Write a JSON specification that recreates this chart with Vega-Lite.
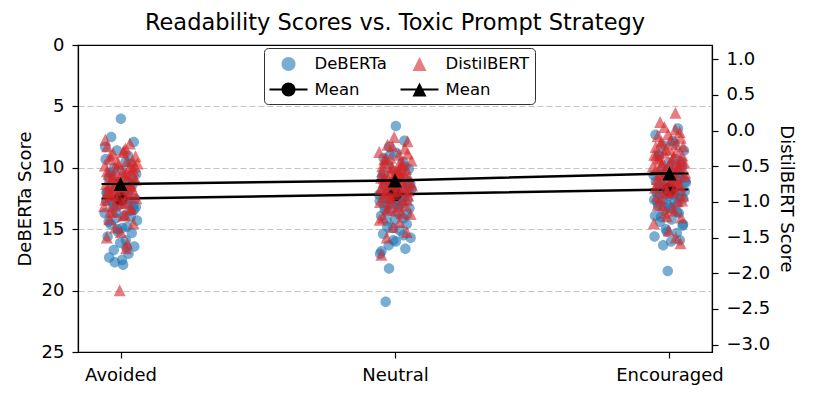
{
  "$schema": "https://vega.github.io/schema/vega-lite/v6.json",
  "width": 634,
  "height": 307,
  "autosize": {"type": "none"},
  "padding": {"left": 78, "top": 45, "right": 102, "bottom": 46},
  "background": "white",
  "title": {"text": "Readability Scores vs. Toxic Prompt Strategy", "fontSize": 22.5, "font": "DejaVu Sans", "fontWeight": "normal", "color": "black", "anchor": "middle", "offset": 15.5, "baseline": "alphabetic", "dy": 31.5},
  "datasets": {
    "deb": [
      {"s":"Avoided","m":"DeBERTa","v":6.0,"j":0.02},{"s":"Avoided","m":"DeBERTa","v":7.5,"j":-0.55},{"s":"Avoided","m":"DeBERTa","v":7.9,"j":0.78},{"s":"Avoided","m":"DeBERTa","v":8.6,"j":-0.21},{"s":"Avoided","m":"DeBERTa","v":9.0,"j":0.43},{"s":"Avoided","m":"DeBERTa","v":9.3,"j":-0.88},{"s":"Avoided","m":"DeBERTa","v":9.7,"j":0.61},{"s":"Avoided","m":"DeBERTa","v":10.0,"j":-0.37},{"s":"Avoided","m":"DeBERTa","v":10.2,"j":0.05},{"s":"Avoided","m":"DeBERTa","v":10.5,"j":0.92},{"s":"Avoided","m":"DeBERTa","v":10.8,"j":-0.70},{"s":"Avoided","m":"DeBERTa","v":11.0,"j":0.28},{"s":"Avoided","m":"DeBERTa","v":11.2,"j":-0.12},{"s":"Avoided","m":"DeBERTa","v":11.4,"j":0.69},{"s":"Avoided","m":"DeBERTa","v":11.6,"j":-0.49},{"s":"Avoided","m":"DeBERTa","v":11.8,"j":0.51},{"s":"Avoided","m":"DeBERTa","v":12.0,"j":-0.82},{"s":"Avoided","m":"DeBERTa","v":12.2,"j":0.18},{"s":"Avoided","m":"DeBERTa","v":12.3,"j":-0.30},{"s":"Avoided","m":"DeBERTa","v":12.5,"j":0.85},{"s":"Avoided","m":"DeBERTa","v":12.6,"j":-0.63},{"s":"Avoided","m":"DeBERTa","v":12.8,"j":0.36},{"s":"Avoided","m":"DeBERTa","v":13.0,"j":-0.05},{"s":"Avoided","m":"DeBERTa","v":13.1,"j":0.74},{"s":"Avoided","m":"DeBERTa","v":13.3,"j":-0.44},{"s":"Avoided","m":"DeBERTa","v":13.5,"j":0.58},{"s":"Avoided","m":"DeBERTa","v":13.7,"j":-0.93},{"s":"Avoided","m":"DeBERTa","v":13.9,"j":0.22},{"s":"Avoided","m":"DeBERTa","v":14.1,"j":-0.26},{"s":"Avoided","m":"DeBERTa","v":14.3,"j":0.97},{"s":"Avoided","m":"DeBERTa","v":14.6,"j":-0.58},{"s":"Avoided","m":"DeBERTa","v":14.8,"j":0.40},{"s":"Avoided","m":"DeBERTa","v":15.0,"j":-0.16},{"s":"Avoided","m":"DeBERTa","v":15.3,"j":0.66},{"s":"Avoided","m":"DeBERTa","v":15.6,"j":-0.76},{"s":"Avoided","m":"DeBERTa","v":15.9,"j":0.31},{"s":"Avoided","m":"DeBERTa","v":16.1,"j":-0.02},{"s":"Avoided","m":"DeBERTa","v":16.4,"j":0.81},{"s":"Avoided","m":"DeBERTa","v":16.7,"j":-0.40},{"s":"Avoided","m":"DeBERTa","v":17.0,"j":0.47},{"s":"Avoided","m":"DeBERTa","v":17.3,"j":-0.67},{"s":"Avoided","m":"DeBERTa","v":17.5,"j":0.09},{"s":"Avoided","m":"DeBERTa","v":17.7,"j":-0.34},{"s":"Avoided","m":"DeBERTa","v":17.9,"j":0.15},{"s":"Avoided","m":"DeBERTa","v":12.7,"j":-0.85},
      {"s":"Avoided","m":"DeBERTa","v":9.5,"j":0.3},{"s":"Avoided","m":"DeBERTa","v":10.4,"j":-0.6},{"s":"Avoided","m":"DeBERTa","v":10.9,"j":0.7},{"s":"Avoided","m":"DeBERTa","v":11.3,"j":-0.1},{"s":"Avoided","m":"DeBERTa","v":11.7,"j":0.5},{"s":"Avoided","m":"DeBERTa","v":12.1,"j":-0.8},{"s":"Avoided","m":"DeBERTa","v":12.4,"j":0.2},{"s":"Avoided","m":"DeBERTa","v":12.9,"j":-0.4},{"s":"Avoided","m":"DeBERTa","v":13.2,"j":0.9},{"s":"Avoided","m":"DeBERTa","v":13.6,"j":-0.25},{"s":"Avoided","m":"DeBERTa","v":14.0,"j":0.6},{"s":"Avoided","m":"DeBERTa","v":14.4,"j":-0.7},{"s":"Avoided","m":"DeBERTa","v":11.5,"j":0.0},{"s":"Avoided","m":"DeBERTa","v":12.6,"j":0.45},{"s":"Avoided","m":"DeBERTa","v":10.6,"j":-0.5},{"s":"Avoided","m":"DeBERTa","v":13.4,"j":0.8},{"s":"Avoided","m":"DeBERTa","v":15.2,"j":-0.15},{"s":"Avoided","m":"DeBERTa","v":16.5,"j":0.35},{"s":"Avoided","m":"DeBERTa","v":8.3,"j":-0.9},{"s":"Avoided","m":"DeBERTa","v":14.9,"j":0.1},
      {"s":"Neutral","m":"DeBERTa","v":6.6,"j":0.05},{"s":"Neutral","m":"DeBERTa","v":7.8,"j":0.55},{"s":"Neutral","m":"DeBERTa","v":8.3,"j":-0.34},{"s":"Neutral","m":"DeBERTa","v":8.8,"j":0.09},{"s":"Neutral","m":"DeBERTa","v":9.2,"j":-0.67},{"s":"Neutral","m":"DeBERTa","v":9.5,"j":0.47},{"s":"Neutral","m":"DeBERTa","v":9.8,"j":-0.40},{"s":"Neutral","m":"DeBERTa","v":10.1,"j":0.81},{"s":"Neutral","m":"DeBERTa","v":10.3,"j":-0.02},{"s":"Neutral","m":"DeBERTa","v":10.6,"j":0.31},{"s":"Neutral","m":"DeBERTa","v":10.8,"j":-0.76},{"s":"Neutral","m":"DeBERTa","v":11.0,"j":0.66},{"s":"Neutral","m":"DeBERTa","v":11.2,"j":-0.16},{"s":"Neutral","m":"DeBERTa","v":11.4,"j":0.40},{"s":"Neutral","m":"DeBERTa","v":11.6,"j":-0.58},{"s":"Neutral","m":"DeBERTa","v":11.7,"j":0.97},{"s":"Neutral","m":"DeBERTa","v":11.9,"j":-0.26},{"s":"Neutral","m":"DeBERTa","v":12.0,"j":0.22},{"s":"Neutral","m":"DeBERTa","v":12.2,"j":-0.93},{"s":"Neutral","m":"DeBERTa","v":12.3,"j":0.58},{"s":"Neutral","m":"DeBERTa","v":12.5,"j":-0.44},{"s":"Neutral","m":"DeBERTa","v":12.6,"j":0.74},{"s":"Neutral","m":"DeBERTa","v":12.8,"j":-0.05},{"s":"Neutral","m":"DeBERTa","v":12.9,"j":0.36},{"s":"Neutral","m":"DeBERTa","v":13.1,"j":-0.63},{"s":"Neutral","m":"DeBERTa","v":13.3,"j":0.85},{"s":"Neutral","m":"DeBERTa","v":13.5,"j":-0.30},{"s":"Neutral","m":"DeBERTa","v":13.7,"j":0.18},{"s":"Neutral","m":"DeBERTa","v":13.9,"j":-0.82},{"s":"Neutral","m":"DeBERTa","v":14.1,"j":0.51},{"s":"Neutral","m":"DeBERTa","v":14.3,"j":-0.49},{"s":"Neutral","m":"DeBERTa","v":14.6,"j":0.69},{"s":"Neutral","m":"DeBERTa","v":14.9,"j":-0.12},{"s":"Neutral","m":"DeBERTa","v":15.1,"j":0.28},{"s":"Neutral","m":"DeBERTa","v":15.4,"j":-0.70},{"s":"Neutral","m":"DeBERTa","v":15.7,"j":0.92},{"s":"Neutral","m":"DeBERTa","v":16.0,"j":0.05},{"s":"Neutral","m":"DeBERTa","v":16.3,"j":-0.37},{"s":"Neutral","m":"DeBERTa","v":16.6,"j":0.61},{"s":"Neutral","m":"DeBERTa","v":17.0,"j":-0.88},{"s":"Neutral","m":"DeBERTa","v":18.2,"j":-0.35},{"s":"Neutral","m":"DeBERTa","v":20.9,"j":-0.55},{"s":"Neutral","m":"DeBERTa","v":11.5,"j":0.78},{"s":"Neutral","m":"DeBERTa","v":12.4,"j":-0.55},{"s":"Neutral","m":"DeBERTa","v":13.0,"j":0.12},
      {"s":"Neutral","m":"DeBERTa","v":9.0,"j":-0.3},{"s":"Neutral","m":"DeBERTa","v":9.9,"j":0.6},{"s":"Neutral","m":"DeBERTa","v":10.5,"j":-0.7},{"s":"Neutral","m":"DeBERTa","v":11.1,"j":0.1},{"s":"Neutral","m":"DeBERTa","v":11.5,"j":-0.5},{"s":"Neutral","m":"DeBERTa","v":11.8,"j":0.8},{"s":"Neutral","m":"DeBERTa","v":12.1,"j":-0.2},{"s":"Neutral","m":"DeBERTa","v":12.4,"j":0.4},{"s":"Neutral","m":"DeBERTa","v":12.7,"j":-0.9},{"s":"Neutral","m":"DeBERTa","v":13.0,"j":0.25},{"s":"Neutral","m":"DeBERTa","v":13.4,"j":-0.6},{"s":"Neutral","m":"DeBERTa","v":13.8,"j":0.7},{"s":"Neutral","m":"DeBERTa","v":14.2,"j":0.0},{"s":"Neutral","m":"DeBERTa","v":14.8,"j":-0.45},{"s":"Neutral","m":"DeBERTa","v":15.5,"j":0.5},{"s":"Neutral","m":"DeBERTa","v":16.8,"j":-0.8},{"s":"Neutral","m":"DeBERTa","v":10.9,"j":0.15},{"s":"Neutral","m":"DeBERTa","v":12.9,"j":-0.35},{"s":"Neutral","m":"DeBERTa","v":11.3,"j":0.9},{"s":"Neutral","m":"DeBERTa","v":15.9,"j":-0.1},
      {"s":"Encouraged","m":"DeBERTa","v":6.8,"j":0.5},{"s":"Encouraged","m":"DeBERTa","v":7.3,"j":-0.82},{"s":"Encouraged","m":"DeBERTa","v":7.8,"j":0.18},{"s":"Encouraged","m":"DeBERTa","v":8.2,"j":-0.30},{"s":"Encouraged","m":"DeBERTa","v":8.6,"j":0.85},{"s":"Encouraged","m":"DeBERTa","v":9.0,"j":-0.63},{"s":"Encouraged","m":"DeBERTa","v":9.3,"j":0.36},{"s":"Encouraged","m":"DeBERTa","v":9.6,"j":-0.05},{"s":"Encouraged","m":"DeBERTa","v":9.9,"j":0.74},{"s":"Encouraged","m":"DeBERTa","v":10.1,"j":-0.44},{"s":"Encouraged","m":"DeBERTa","v":10.4,"j":0.58},{"s":"Encouraged","m":"DeBERTa","v":10.6,"j":-0.93},{"s":"Encouraged","m":"DeBERTa","v":10.8,"j":0.22},{"s":"Encouraged","m":"DeBERTa","v":11.0,"j":-0.26},{"s":"Encouraged","m":"DeBERTa","v":11.2,"j":0.97},{"s":"Encouraged","m":"DeBERTa","v":11.4,"j":-0.58},{"s":"Encouraged","m":"DeBERTa","v":11.5,"j":0.40},{"s":"Encouraged","m":"DeBERTa","v":11.7,"j":-0.16},{"s":"Encouraged","m":"DeBERTa","v":11.9,"j":0.66},{"s":"Encouraged","m":"DeBERTa","v":12.0,"j":-0.76},{"s":"Encouraged","m":"DeBERTa","v":12.2,"j":0.31},{"s":"Encouraged","m":"DeBERTa","v":12.3,"j":-0.02},{"s":"Encouraged","m":"DeBERTa","v":12.5,"j":0.81},{"s":"Encouraged","m":"DeBERTa","v":12.7,"j":-0.40},{"s":"Encouraged","m":"DeBERTa","v":12.9,"j":0.47},{"s":"Encouraged","m":"DeBERTa","v":13.1,"j":-0.67},{"s":"Encouraged","m":"DeBERTa","v":13.3,"j":0.09},{"s":"Encouraged","m":"DeBERTa","v":13.5,"j":-0.34},{"s":"Encouraged","m":"DeBERTa","v":13.7,"j":0.55},{"s":"Encouraged","m":"DeBERTa","v":13.9,"j":-0.85},{"s":"Encouraged","m":"DeBERTa","v":14.2,"j":0.12},{"s":"Encouraged","m":"DeBERTa","v":14.4,"j":-0.55},{"s":"Encouraged","m":"DeBERTa","v":14.7,"j":0.78},{"s":"Encouraged","m":"DeBERTa","v":15.0,"j":-0.21},{"s":"Encouraged","m":"DeBERTa","v":15.3,"j":0.43},{"s":"Encouraged","m":"DeBERTa","v":15.6,"j":-0.88},{"s":"Encouraged","m":"DeBERTa","v":15.9,"j":0.61},{"s":"Encouraged","m":"DeBERTa","v":16.3,"j":-0.37},{"s":"Encouraged","m":"DeBERTa","v":18.4,"j":-0.1},{"s":"Encouraged","m":"DeBERTa","v":11.1,"j":0.92},{"s":"Encouraged","m":"DeBERTa","v":12.1,"j":-0.70},{"s":"Encouraged","m":"DeBERTa","v":12.6,"j":0.28},{"s":"Encouraged","m":"DeBERTa","v":13.0,"j":-0.12},{"s":"Encouraged","m":"DeBERTa","v":10.9,"j":0.69},{"s":"Encouraged","m":"DeBERTa","v":11.8,"j":-0.49},
      {"s":"Encouraged","m":"DeBERTa","v":8.0,"j":0.3},{"s":"Encouraged","m":"DeBERTa","v":8.9,"j":-0.6},{"s":"Encouraged","m":"DeBERTa","v":9.5,"j":0.7},{"s":"Encouraged","m":"DeBERTa","v":10.2,"j":-0.1},{"s":"Encouraged","m":"DeBERTa","v":10.7,"j":0.5},{"s":"Encouraged","m":"DeBERTa","v":11.1,"j":-0.8},{"s":"Encouraged","m":"DeBERTa","v":11.3,"j":0.2},{"s":"Encouraged","m":"DeBERTa","v":11.6,"j":-0.4},{"s":"Encouraged","m":"DeBERTa","v":11.9,"j":0.9},{"s":"Encouraged","m":"DeBERTa","v":12.2,"j":-0.25},{"s":"Encouraged","m":"DeBERTa","v":12.4,"j":0.6},{"s":"Encouraged","m":"DeBERTa","v":12.8,"j":-0.7},{"s":"Encouraged","m":"DeBERTa","v":13.2,"j":0.0},{"s":"Encouraged","m":"DeBERTa","v":13.6,"j":0.45},{"s":"Encouraged","m":"DeBERTa","v":14.0,"j":-0.5},{"s":"Encouraged","m":"DeBERTa","v":14.6,"j":0.8},{"s":"Encouraged","m":"DeBERTa","v":15.2,"j":-0.15},{"s":"Encouraged","m":"DeBERTa","v":10.0,"j":0.35},{"s":"Encouraged","m":"DeBERTa","v":12.6,"j":-0.9},{"s":"Encouraged","m":"DeBERTa","v":16.0,"j":0.1}
    ],
    "dis": [
      {"s":"Avoided","m":"DistilBERT","v":-0.13,"j":-0.9},{"s":"Avoided","m":"DistilBERT","v":-0.18,"j":0.55},{"s":"Avoided","m":"DistilBERT","v":-0.22,"j":-0.78},{"s":"Avoided","m":"DistilBERT","v":-0.28,"j":0.21},{"s":"Avoided","m":"DistilBERT","v":-0.32,"j":-0.43},{"s":"Avoided","m":"DistilBERT","v":-0.36,"j":0.88},{"s":"Avoided","m":"DistilBERT","v":-0.40,"j":-0.61},{"s":"Avoided","m":"DistilBERT","v":-0.43,"j":0.37},{"s":"Avoided","m":"DistilBERT","v":-0.46,"j":1.0},{"s":"Avoided","m":"DistilBERT","v":-0.49,"j":-0.92},{"s":"Avoided","m":"DistilBERT","v":-0.52,"j":0.70},{"s":"Avoided","m":"DistilBERT","v":-0.55,"j":-0.28},{"s":"Avoided","m":"DistilBERT","v":-0.58,"j":0.12},{"s":"Avoided","m":"DistilBERT","v":-0.61,"j":-0.69},{"s":"Avoided","m":"DistilBERT","v":-0.63,"j":0.49},{"s":"Avoided","m":"DistilBERT","v":-0.66,"j":-0.51},{"s":"Avoided","m":"DistilBERT","v":-0.68,"j":0.82},{"s":"Avoided","m":"DistilBERT","v":-0.71,"j":-0.18},{"s":"Avoided","m":"DistilBERT","v":-0.73,"j":0.30},{"s":"Avoided","m":"DistilBERT","v":-0.75,"j":-0.85},{"s":"Avoided","m":"DistilBERT","v":-0.78,"j":0.63},{"s":"Avoided","m":"DistilBERT","v":-0.80,"j":-0.36},{"s":"Avoided","m":"DistilBERT","v":-0.83,"j":0.05},{"s":"Avoided","m":"DistilBERT","v":-0.86,"j":-0.74},{"s":"Avoided","m":"DistilBERT","v":-0.89,"j":0.44},{"s":"Avoided","m":"DistilBERT","v":-0.92,"j":-0.58},{"s":"Avoided","m":"DistilBERT","v":-0.95,"j":0.93},{"s":"Avoided","m":"DistilBERT","v":-0.98,"j":-0.22},{"s":"Avoided","m":"DistilBERT","v":-1.02,"j":0.26},{"s":"Avoided","m":"DistilBERT","v":-1.06,"j":-0.97},{"s":"Avoided","m":"DistilBERT","v":-1.10,"j":0.58},{"s":"Avoided","m":"DistilBERT","v":-1.14,"j":-0.40},{"s":"Avoided","m":"DistilBERT","v":-1.19,"j":0.16},{"s":"Avoided","m":"DistilBERT","v":-1.24,"j":-0.66},{"s":"Avoided","m":"DistilBERT","v":-1.30,"j":0.76},{"s":"Avoided","m":"DistilBERT","v":-1.36,"j":-0.31},{"s":"Avoided","m":"DistilBERT","v":-1.42,"j":0.02},{"s":"Avoided","m":"DistilBERT","v":-1.50,"j":-0.81},{"s":"Avoided","m":"DistilBERT","v":-1.58,"j":0.40},{"s":"Avoided","m":"DistilBERT","v":-1.65,"j":0.33},{"s":"Avoided","m":"DistilBERT","v":-2.24,"j":-0.05},{"s":"Avoided","m":"DistilBERT","v":-0.70,"j":-0.09},{"s":"Avoided","m":"DistilBERT","v":-0.60,"j":0.34},{"s":"Avoided","m":"DistilBERT","v":-0.90,"j":-0.55},{"s":"Avoided","m":"DistilBERT","v":-0.50,"j":0.85},
      {"s":"Avoided","m":"DistilBERT","v":-0.25,"j":0.3},{"s":"Avoided","m":"DistilBERT","v":-0.35,"j":-0.6},{"s":"Avoided","m":"DistilBERT","v":-0.42,"j":0.7},{"s":"Avoided","m":"DistilBERT","v":-0.47,"j":-0.1},{"s":"Avoided","m":"DistilBERT","v":-0.53,"j":0.5},{"s":"Avoided","m":"DistilBERT","v":-0.57,"j":-0.8},{"s":"Avoided","m":"DistilBERT","v":-0.62,"j":0.2},{"s":"Avoided","m":"DistilBERT","v":-0.65,"j":-0.4},{"s":"Avoided","m":"DistilBERT","v":-0.69,"j":0.9},{"s":"Avoided","m":"DistilBERT","v":-0.72,"j":-0.25},{"s":"Avoided","m":"DistilBERT","v":-0.74,"j":0.6},{"s":"Avoided","m":"DistilBERT","v":-0.77,"j":-0.7},{"s":"Avoided","m":"DistilBERT","v":-0.79,"j":0.0},{"s":"Avoided","m":"DistilBERT","v":-0.82,"j":0.45},{"s":"Avoided","m":"DistilBERT","v":-0.84,"j":-0.5},{"s":"Avoided","m":"DistilBERT","v":-0.87,"j":0.8},{"s":"Avoided","m":"DistilBERT","v":-0.91,"j":-0.15},{"s":"Avoided","m":"DistilBERT","v":-0.94,"j":0.35},{"s":"Avoided","m":"DistilBERT","v":-0.97,"j":-0.9},{"s":"Avoided","m":"DistilBERT","v":-1.01,"j":0.1},{"s":"Avoided","m":"DistilBERT","v":-1.05,"j":-0.35},{"s":"Avoided","m":"DistilBERT","v":-1.09,"j":0.65},{"s":"Avoided","m":"DistilBERT","v":-1.13,"j":-0.6},{"s":"Avoided","m":"DistilBERT","v":-1.18,"j":0.25},{"s":"Avoided","m":"DistilBERT","v":-0.45,"j":-0.2},{"s":"Avoided","m":"DistilBERT","v":-0.56,"j":0.75},{"s":"Avoided","m":"DistilBERT","v":-0.67,"j":-0.45},{"s":"Avoided","m":"DistilBERT","v":-0.76,"j":0.55},{"s":"Avoided","m":"DistilBERT","v":-0.85,"j":-0.75},{"s":"Avoided","m":"DistilBERT","v":-0.30,"j":0.15},
      {"s":"Neutral","m":"DistilBERT","v":-0.09,"j":-0.05},{"s":"Neutral","m":"DistilBERT","v":-0.15,"j":0.74},{"s":"Neutral","m":"DistilBERT","v":-0.20,"j":-0.44},{"s":"Neutral","m":"DistilBERT","v":-0.25,"j":0.58},{"s":"Neutral","m":"DistilBERT","v":-0.30,"j":-0.93},{"s":"Neutral","m":"DistilBERT","v":-0.34,"j":0.22},{"s":"Neutral","m":"DistilBERT","v":-0.38,"j":-0.26},{"s":"Neutral","m":"DistilBERT","v":-0.42,"j":0.97},{"s":"Neutral","m":"DistilBERT","v":-0.45,"j":-0.58},{"s":"Neutral","m":"DistilBERT","v":-0.48,"j":0.40},{"s":"Neutral","m":"DistilBERT","v":-0.51,"j":-0.16},{"s":"Neutral","m":"DistilBERT","v":-0.54,"j":0.66},{"s":"Neutral","m":"DistilBERT","v":-0.57,"j":-0.76},{"s":"Neutral","m":"DistilBERT","v":-0.60,"j":0.31},{"s":"Neutral","m":"DistilBERT","v":-0.62,"j":-0.02},{"s":"Neutral","m":"DistilBERT","v":-0.65,"j":0.81},{"s":"Neutral","m":"DistilBERT","v":-0.67,"j":-0.40},{"s":"Neutral","m":"DistilBERT","v":-0.70,"j":0.47},{"s":"Neutral","m":"DistilBERT","v":-0.72,"j":-0.67},{"s":"Neutral","m":"DistilBERT","v":-0.74,"j":0.09},{"s":"Neutral","m":"DistilBERT","v":-0.76,"j":-0.34},{"s":"Neutral","m":"DistilBERT","v":-0.79,"j":0.55},{"s":"Neutral","m":"DistilBERT","v":-0.82,"j":-0.85},{"s":"Neutral","m":"DistilBERT","v":-0.85,"j":0.12},{"s":"Neutral","m":"DistilBERT","v":-0.88,"j":-0.55},{"s":"Neutral","m":"DistilBERT","v":-0.91,"j":0.78},{"s":"Neutral","m":"DistilBERT","v":-0.94,"j":-0.21},{"s":"Neutral","m":"DistilBERT","v":-0.97,"j":0.43},{"s":"Neutral","m":"DistilBERT","v":-1.00,"j":-0.88},{"s":"Neutral","m":"DistilBERT","v":-1.04,"j":0.61},{"s":"Neutral","m":"DistilBERT","v":-1.08,"j":-0.37},{"s":"Neutral","m":"DistilBERT","v":-1.12,"j":0.05},{"s":"Neutral","m":"DistilBERT","v":-1.17,"j":0.92},{"s":"Neutral","m":"DistilBERT","v":-1.22,"j":-0.70},{"s":"Neutral","m":"DistilBERT","v":-1.28,"j":0.28},{"s":"Neutral","m":"DistilBERT","v":-1.35,"j":-0.12},{"s":"Neutral","m":"DistilBERT","v":-1.42,"j":0.69},{"s":"Neutral","m":"DistilBERT","v":-1.50,"j":-0.49},{"s":"Neutral","m":"DistilBERT","v":-1.74,"j":-0.8},{"s":"Neutral","m":"DistilBERT","v":-0.66,"j":-0.82},{"s":"Neutral","m":"DistilBERT","v":-0.58,"j":0.18},{"s":"Neutral","m":"DistilBERT","v":-0.77,"j":1.0},{"s":"Neutral","m":"DistilBERT","v":-0.95,"j":-0.30},{"s":"Neutral","m":"DistilBERT","v":-0.40,"j":-0.63},{"s":"Neutral","m":"DistilBERT","v":-0.55,"j":0.36},
      {"s":"Neutral","m":"DistilBERT","v":-0.22,"j":-0.15},{"s":"Neutral","m":"DistilBERT","v":-0.32,"j":0.75},{"s":"Neutral","m":"DistilBERT","v":-0.40,"j":-0.55},{"s":"Neutral","m":"DistilBERT","v":-0.46,"j":0.45},{"s":"Neutral","m":"DistilBERT","v":-0.50,"j":-0.75},{"s":"Neutral","m":"DistilBERT","v":-0.55,"j":0.2},{"s":"Neutral","m":"DistilBERT","v":-0.59,"j":-0.25},{"s":"Neutral","m":"DistilBERT","v":-0.63,"j":0.6},{"s":"Neutral","m":"DistilBERT","v":-0.66,"j":-0.65},{"s":"Neutral","m":"DistilBERT","v":-0.69,"j":0.35},{"s":"Neutral","m":"DistilBERT","v":-0.71,"j":-0.1},{"s":"Neutral","m":"DistilBERT","v":-0.73,"j":0.9},{"s":"Neutral","m":"DistilBERT","v":-0.75,"j":-0.35},{"s":"Neutral","m":"DistilBERT","v":-0.78,"j":0.15},{"s":"Neutral","m":"DistilBERT","v":-0.80,"j":-0.8},{"s":"Neutral","m":"DistilBERT","v":-0.83,"j":0.5},{"s":"Neutral","m":"DistilBERT","v":-0.86,"j":-0.45},{"s":"Neutral","m":"DistilBERT","v":-0.89,"j":0.0},{"s":"Neutral","m":"DistilBERT","v":-0.93,"j":-0.7},{"s":"Neutral","m":"DistilBERT","v":-0.97,"j":0.7},{"s":"Neutral","m":"DistilBERT","v":-1.02,"j":-0.25},{"s":"Neutral","m":"DistilBERT","v":-1.06,"j":0.25},{"s":"Neutral","m":"DistilBERT","v":-1.11,"j":-0.5},{"s":"Neutral","m":"DistilBERT","v":-1.16,"j":0.4},{"s":"Neutral","m":"DistilBERT","v":-1.25,"j":-0.9},{"s":"Neutral","m":"DistilBERT","v":-0.61,"j":0.1},{"s":"Neutral","m":"DistilBERT","v":-0.68,"j":-0.6},{"s":"Neutral","m":"DistilBERT","v":-0.84,"j":0.8},{"s":"Neutral","m":"DistilBERT","v":-0.52,"j":-0.2},{"s":"Neutral","m":"DistilBERT","v":-0.44,"j":0.3},
      {"s":"Encouraged","m":"DistilBERT","v":0.25,"j":0.35},{"s":"Encouraged","m":"DistilBERT","v":0.12,"j":-0.55},{"s":"Encouraged","m":"DistilBERT","v":0.02,"j":0.34},{"s":"Encouraged","m":"DistilBERT","v":-0.05,"j":-0.09},{"s":"Encouraged","m":"DistilBERT","v":-0.10,"j":0.67},{"s":"Encouraged","m":"DistilBERT","v":-0.15,"j":-0.47},{"s":"Encouraged","m":"DistilBERT","v":-0.19,"j":0.40},{"s":"Encouraged","m":"DistilBERT","v":-0.23,"j":-0.81},{"s":"Encouraged","m":"DistilBERT","v":-0.27,"j":0.02},{"s":"Encouraged","m":"DistilBERT","v":-0.31,"j":-0.31},{"s":"Encouraged","m":"DistilBERT","v":-0.35,"j":0.76},{"s":"Encouraged","m":"DistilBERT","v":-0.38,"j":-0.66},{"s":"Encouraged","m":"DistilBERT","v":-0.41,"j":0.16},{"s":"Encouraged","m":"DistilBERT","v":-0.44,"j":-0.40},{"s":"Encouraged","m":"DistilBERT","v":-0.47,"j":0.58},{"s":"Encouraged","m":"DistilBERT","v":-0.50,"j":-0.97},{"s":"Encouraged","m":"DistilBERT","v":-0.53,"j":0.26},{"s":"Encouraged","m":"DistilBERT","v":-0.56,"j":-0.22},{"s":"Encouraged","m":"DistilBERT","v":-0.59,"j":0.93},{"s":"Encouraged","m":"DistilBERT","v":-0.62,"j":-0.58},{"s":"Encouraged","m":"DistilBERT","v":-0.65,"j":0.44},{"s":"Encouraged","m":"DistilBERT","v":-0.68,"j":-0.74},{"s":"Encouraged","m":"DistilBERT","v":-0.71,"j":0.05},{"s":"Encouraged","m":"DistilBERT","v":-0.74,"j":-0.36},{"s":"Encouraged","m":"DistilBERT","v":-0.77,"j":0.63},{"s":"Encouraged","m":"DistilBERT","v":-0.80,"j":-0.85},{"s":"Encouraged","m":"DistilBERT","v":-0.83,"j":0.30},{"s":"Encouraged","m":"DistilBERT","v":-0.87,"j":-0.18},{"s":"Encouraged","m":"DistilBERT","v":-0.91,"j":0.82},{"s":"Encouraged","m":"DistilBERT","v":-0.95,"j":-0.51},{"s":"Encouraged","m":"DistilBERT","v":-0.99,"j":0.49},{"s":"Encouraged","m":"DistilBERT","v":-1.04,"j":-0.69},{"s":"Encouraged","m":"DistilBERT","v":-1.09,"j":0.12},{"s":"Encouraged","m":"DistilBERT","v":-1.15,"j":-0.28},{"s":"Encouraged","m":"DistilBERT","v":-1.22,"j":0.70},{"s":"Encouraged","m":"DistilBERT","v":-1.30,"j":-0.92},{"s":"Encouraged","m":"DistilBERT","v":-1.40,"j":-0.05},{"s":"Encouraged","m":"DistilBERT","v":-1.50,"j":0.37},{"s":"Encouraged","m":"DistilBERT","v":-1.58,"j":0.65},{"s":"Encouraged","m":"DistilBERT","v":-0.45,"j":0.88},{"s":"Encouraged","m":"DistilBERT","v":-0.60,"j":-0.43},{"s":"Encouraged","m":"DistilBERT","v":-0.70,"j":0.21},{"s":"Encouraged","m":"DistilBERT","v":-0.35,"j":-0.78},{"s":"Encouraged","m":"DistilBERT","v":-0.52,"j":0.55},{"s":"Encouraged","m":"DistilBERT","v":-0.85,"j":-0.12},
      {"s":"Encouraged","m":"DistilBERT","v":0.05,"j":-0.3},{"s":"Encouraged","m":"DistilBERT","v":-0.02,"j":0.6},{"s":"Encouraged","m":"DistilBERT","v":-0.08,"j":-0.7},{"s":"Encouraged","m":"DistilBERT","v":-0.13,"j":0.1},{"s":"Encouraged","m":"DistilBERT","v":-0.18,"j":-0.5},{"s":"Encouraged","m":"DistilBERT","v":-0.22,"j":0.8},{"s":"Encouraged","m":"DistilBERT","v":-0.26,"j":-0.2},{"s":"Encouraged","m":"DistilBERT","v":-0.30,"j":0.4},{"s":"Encouraged","m":"DistilBERT","v":-0.34,"j":-0.9},{"s":"Encouraged","m":"DistilBERT","v":-0.37,"j":0.25},{"s":"Encouraged","m":"DistilBERT","v":-0.40,"j":-0.6},{"s":"Encouraged","m":"DistilBERT","v":-0.43,"j":0.7},{"s":"Encouraged","m":"DistilBERT","v":-0.46,"j":0.0},{"s":"Encouraged","m":"DistilBERT","v":-0.49,"j":-0.45},{"s":"Encouraged","m":"DistilBERT","v":-0.52,"j":0.5},{"s":"Encouraged","m":"DistilBERT","v":-0.55,"j":-0.8},{"s":"Encouraged","m":"DistilBERT","v":-0.58,"j":0.15},{"s":"Encouraged","m":"DistilBERT","v":-0.61,"j":-0.35},{"s":"Encouraged","m":"DistilBERT","v":-0.64,"j":0.9},{"s":"Encouraged","m":"DistilBERT","v":-0.67,"j":-0.1},{"s":"Encouraged","m":"DistilBERT","v":-0.70,"j":0.35},{"s":"Encouraged","m":"DistilBERT","v":-0.73,"j":-0.65},{"s":"Encouraged","m":"DistilBERT","v":-0.77,"j":0.6},{"s":"Encouraged","m":"DistilBERT","v":-0.81,"j":-0.25},{"s":"Encouraged","m":"DistilBERT","v":-0.86,"j":0.2},{"s":"Encouraged","m":"DistilBERT","v":-0.92,"j":-0.75},{"s":"Encouraged","m":"DistilBERT","v":-0.98,"j":0.75},{"s":"Encouraged","m":"DistilBERT","v":-1.05,"j":-0.4},{"s":"Encouraged","m":"DistilBERT","v":-1.12,"j":0.3},{"s":"Encouraged","m":"DistilBERT","v":-1.20,"j":-0.15}
    ],
    "debMean": [
      {"s":"Avoided","m":"DeBERTa Mean","v":12.49},{"s":"Neutral","m":"DeBERTa Mean","v":12.16},{"s":"Encouraged","m":"DeBERTa Mean","v":11.76}
    ],
    "disMean": [
      {"s":"Avoided","m":"DistilBERT Mean","v":-0.748},{"s":"Neutral","m":"DistilBERT Mean","v":-0.70},{"s":"Encouraged","m":"DistilBERT Mean","v":-0.60}
    ]
  },
  "encoding": {
    "x": {"field": "s", "type": "nominal", "scale": {"type": "point", "domain": ["Avoided", "Neutral", "Encouraged"], "padding": 0.155}, "axis": {"title": null, "labelAngle": 0, "labelFontSize": 18, "labelPadding": 8}}
  },
  "layer": [
    {
      "encoding": {
        "y": {"field": "v", "type": "quantitative", "scale": {"domain": [0, 25], "reverse": true, "nice": false, "zero": false}, "axis": {"orient": "left", "values": [0, 5, 10, 15, 20, 25], "grid": true, "gridColor": "#c4c4c4", "gridDash": [6, 3], "gridWidth": 1.1, "gridOpacity": {"condition": {"test": "datum.value === 0 || datum.value === 25", "value": 0}, "value": 1}, "title": "DeBERTa Score", "titlePadding": 7}}
      },
      "layer": [
        {
          "data": {"name": "deb"},
          "mark": {"type": "point", "filled": true, "size": 225, "opacity": 1},
          "encoding": {
            "xOffset": {"field": "j", "type": "quantitative", "scale": {"domain": [-1, 1], "range": [-17, 17]}},
            "color": {"field": "m", "type": "nominal", "scale": {"domain": ["DeBERTa", "DistilBERT", "DeBERTa Mean", "DistilBERT Mean"], "range": ["rgba(31,119,180,0.6)", "rgba(214,39,40,0.6)", "#000000", "#000000"]}, "legend": {"title": null, "orient": "none", "legendX": 186, "legendY": 3, "direction": "horizontal", "columns": 2, "symbolSize": 400, "symbolStrokeWidth": 0.5, "symbolOpacity": 1, "symbolOffset": 8.5, "labelFont": "DejaVu Sans", "labelFontSize": 16.5, "labelColor": "black", "labelOffset": 15.5, "padding": 5.5, "rowPadding": 6.5, "columnPadding": 13, "strokeColor": "#333333", "fillColor": "white", "cornerRadius": 4, "labelExpr": "indexof(datum.label, 'Mean') >= 0 ? 'Mean' : datum.label"}},
            "shape": {"field": "m", "type": "nominal", "scale": {"domain": ["DeBERTa", "DistilBERT", "DeBERTa Mean", "DistilBERT Mean"], "range": ["M0.7,0A0.7,0.7,0,1,1,-0.7,0A0.7,0.7,0,1,1,0.7,0Z", "M0,-0.7L0.7,0.7L-0.7,0.7Z", "M-1.9,-0.1H1.9V0.1H-1.9Z M0.7,0A0.7,0.7,0,1,1,-0.7,0A0.7,0.7,0,1,1,0.7,0Z", "M-1.9,-0.1H1.9V0.1H-1.9Z M0,-0.7L0.7,0.7L-0.7,0.7Z"]}}
          }
        },
        {
          "data": {"name": "debMean"},
          "mark": {"type": "line", "color": "black", "strokeWidth": 2.5},
          "encoding": {}
        },
        {
          "data": {"name": "debMean"},
          "mark": {"type": "point", "filled": true, "size": 400, "opacity": 1},
          "encoding": {
            "color": {"field": "m", "type": "nominal"},
            "shape": {"field": "m", "type": "nominal"}
          }
        }
      ]
    },
    {
      "encoding": {
        "y": {"field": "v", "type": "quantitative", "scale": {"domain": [-3.104, 1.2], "nice": false, "zero": false}, "axis": {"orient": "right", "values": [-3, -2.5, -2, -1.5, -1, -0.5, 0, 0.5, 1], "format": ".1f", "grid": false, "title": "DistilBERT Score", "titlePadding": 7}}
      },
      "layer": [
        {
          "data": {"name": "dis"},
          "mark": {"type": "point", "filled": true, "size": 294, "opacity": 1},
          "encoding": {
            "xOffset": {"field": "j", "type": "quantitative", "scale": {"domain": [-1, 1], "range": [-17, 17]}},
            "color": {"field": "m", "type": "nominal"},
            "shape": {"field": "m", "type": "nominal"}
          }
        },
        {
          "data": {"name": "disMean"},
          "mark": {"type": "line", "color": "black", "strokeWidth": 2.5},
          "encoding": {}
        },
        {
          "data": {"name": "disMean"},
          "mark": {"type": "point", "filled": true, "size": 400, "opacity": 1},
          "encoding": {
            "color": {"field": "m", "type": "nominal"},
            "shape": {"field": "m", "type": "nominal"}
          }
        }
      ]
    }
  ],
  "resolve": {"scale": {"y": "independent"}},
  "config": {
    "font": "DejaVu Sans",
    "view": {"stroke": "black", "strokeWidth": 1.2},
    "axis": {"labelFont": "DejaVu Sans", "labelFontSize": 18, "labelColor": "black", "titleFont": "DejaVu Sans", "titleFontSize": 18, "titleFontWeight": "normal", "titleColor": "black", "tickColor": "black", "tickSize": 6, "tickWidth": 1.2, "domainColor": "black", "domainWidth": 1.2, "labelPadding": 8, "grid": false}
  }
}
